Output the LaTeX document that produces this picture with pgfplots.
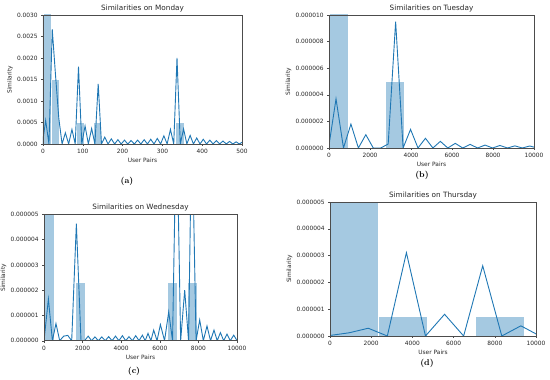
\documentclass[border=0pt]{standalone}
\usepackage{fontspec}
\usepackage{pgfplots}
\pgfplotsset{compat=1.18}
\newfontfamily\dv{DejaVu Sans}
\definecolor{cz}{HTML}{1F77B4}
\definecolor{hc}{HTML}{A5C9E1}
\pgfplotsset{
  panel/.style={
    scale only axis,
    anchor=south west,
    axis on top,
    axis line style={black!70, line width=0.5bp},
    tick align=outside,
    tick pos=left,
    major tick length=1.8bp,
    tick style={black!70, line width=0.4bp},
    tick label style={font=\dv\fontsize{5.9}{6.5}\selectfont, text=black!85},
    label style={font=\dv\fontsize{5.9}{6.5}\selectfont, text=black!85},
    xlabel style={yshift=2.5bp},
    ylabel style={yshift=-2.5bp},
    title style={font=\dv\fontsize{7.3}{8}\selectfont, text=black!85, inner sep=1.2bp, yshift=-4.5bp},
    /pgf/number format/assume math mode=true,
    /pgf/number format/1000 sep={},
    scaled ticks=false,
    xlabel={User Pairs}, ylabel={Similarity},
    xmin=0, ymin=0,
  },
  kde/.style={cz, line width=0.9bp, no markers},
  hist/.style={ybar interval, fill=hc, draw=white, line width=0.3bp},
}
\begin{document}
\begin{tikzpicture}
\useasboundingbox (0bp,0bp) rectangle (550bp,380bp);

% (a) Monday
\begin{axis}[panel, at={(43bp,236bp)}, width=199bp, height=129bp,
  title={Similarities on Monday},
  xmax=500, ymax=0.003,
  xtick={0,100,200,300,400,500},
  ytick={0,0.0005,0.001,0.0015,0.002,0.0025,0.003},
  yticklabels={0.0000,0.0005,0.0010,0.0015,0.0020,0.0025,0.0030}]
\addplot[hist] coordinates {(0,0.045) (20.8,0.0015) (41.6,0)};
\addplot[hist] coordinates {(83.2,0.0005) (104,0)};
\addplot[hist] coordinates {(124.8,0.0005) (145.6,0)};
\addplot[hist] coordinates {(332.8,0.0005) (353.6,0)};
\addplot[kde] coordinates {(-1.55,0) (6.7,0.00055) (14.95,0) (23.2,0.00267) (31.45,0.0016) (39.7,0.0006) (47.95,0) (56.2,0.00026) (64.45,0) (72.7,0.00034) (80.95,0) (89.2,0.0018) (97.45,0) (105.7,0.00042) (113.95,0) (122.2,0.00036) (130.45,0) (138.7,0.0014) (146.95,0) (155.2,0.00016) (163.45,0) (171.7,0.00012) (179.95,0) (188.2,0.0001) (196.45,0) (204.7,0.00009) (212.95,0) (221.2,0.00008) (229.45,0) (237.7,0.00009) (245.95,0) (254.2,0.0001) (262.45,0) (270.7,0.00011) (278.95,0) (287.2,0.00013) (295.45,0) (303.7,0.00019) (311.95,0) (320.2,0.00034) (328.45,0) (336.7,0.002) (344.95,0) (353.2,0.00035) (361.45,0) (369.7,0.0002) (377.95,0) (386.2,0.00014) (394.45,0) (402.7,0.00011) (410.95,0) (419.2,0.00009) (427.45,0) (435.7,0.00008) (443.95,0) (452.2,0.00007) (460.45,0) (468.7,0.00006) (476.95,0) (485.2,0.00005) (493.45,0) (501.7,0.00005)};
\end{axis}

% (b) Tuesday
\begin{axis}[panel, at={(329bp,232bp)}, width=205bp, height=133bp,
  title={Similarities on Tuesday},
  xmax=10000, ymax=1e-5,
  xtick={0,2000,4000,6000,8000,10000},
  ytick={0,2e-6,4e-6,6e-6,8e-6,1e-5},
  yticklabels={0.000000,0.000002,0.000004,0.000006,0.000008,0.000010}]
\addplot[hist] coordinates {(0,2e-5) (915,0)};
\addplot[hist] coordinates {(2745,5e-6) (3660,0)};
\addplot[kde] coordinates {(-21,0) (342.5,3.7e-6) (706,0) (1069.5,1.8e-6) (1433,0) (1796.5,1.0e-6) (2160,0) (2523.5,0) (2887,0.3e-6) (3250.5,9.5e-6) (3614,0) (3977.5,1.4e-6) (4341,0) (4704.5,0.73e-6) (5068,0) (5431.5,0.5e-6) (5795,0) (6158.5,0.35e-6) (6522,0) (6885.5,0.27e-6) (7249,0) (7612.5,0.22e-6) (7976,0) (8339.5,0.19e-6) (8703,0) (9066.5,0.16e-6) (9430,0) (9793.5,0.15e-6) (10157,0)};
\end{axis}

% (c) Wednesday
\begin{axis}[panel, at={(44bp,39.3bp)}, width=193bp, height=126.4bp,
  title={Similarities on Wednesday},
  xmax=10000, ymax=5e-6,
  xtick={0,2000,4000,6000,8000,10000},
  ytick={0,1e-6,2e-6,3e-6,4e-6,5e-6},
  yticklabels={0.000000,0.000001,0.000002,0.000003,0.000004,0.000005}]
\addplot[hist] coordinates {(0,1.5e-5) (530,0)};
\addplot[hist] coordinates {(1590,2.32e-6) (2120,0)};
\addplot[hist] coordinates {(6360,2.32e-6) (6890,0)};
\addplot[hist] coordinates {(7420,2.32e-6) (7950,0)};
\addplot[kde] coordinates {(0,0) (228,1.65e-6) (435,0) (620,0.68e-6) (813,0) (1020,0.18e-6) (1230,0.21e-6) (1435,0) (1677,4.63e-6) (1917,0) (2100,0) (2290,0.18e-6) (2465,0) (2640,0.15e-6) (2818,0) (2995,0.15e-6) (3172,0) (3350,0.16e-6) (3528,0) (3705,0.18e-6) (3884,0) (4062,0.2e-6) (4233,0) (4404,0.16e-6) (4578,0) (4751,0.2e-6) (4925,0) (5098,0.22e-6) (5244,0) (5389,0.29e-6) (5537,0) (5684,0.42e-6) (5858,0) (6031,0.64e-6) (6246,0) (6461,1.14e-6) (6660,0) (6866,9.2e-6) (7080,0) (7290,2.0e-6) (7490,0) (7659,8.9e-6) (7880,0) (8067,0.82e-6) (8256,0) (8446,0.58e-6) (8627,0) (8808,0.42e-6) (8974,0) (9140,0.32e-6) (9311,0) (9482,0.26e-6) (9655,0) (9829,0.22e-6) (10005,0)};
\end{axis}

% (d) Thursday
\begin{axis}[panel, at={(330bp,44bp)}, width=206bp, height=134bp,
  title={Similarities on Thursday},
  xmax=10000, ymax=5e-6,
  xtick={0,2000,4000,6000,8000,10000},
  ytick={0,1e-6,2e-6,3e-6,4e-6,5e-6},
  yticklabels={0.000000,0.000001,0.000002,0.000003,0.000004,0.000005}]
\addplot[hist] coordinates {(0,1.5e-5) (2353,0.746e-6) (4706,0)};
\addplot[hist] coordinates {(7059,0.746e-6) (9412,0)};
\addplot[kde] coordinates {(0,0.02e-6) (931,0.12e-6) (1857,0.29e-6) (2783,0) (3709,3.11e-6) (4635,0) (5561,0.81e-6) (6487,0) (7413,2.62e-6) (8339,0) (9265,0.38e-6) (10191,0)};
\end{axis}

\node[font=\fontsize{8.5}{10}\selectfont\bfseries] at (127bp,198.3bp) {(a)};
\node[font=\fontsize{8.5}{10}\selectfont\bfseries] at (422bp,205bp) {(b)};
\node[font=\fontsize{8.5}{10}\selectfont\bfseries] at (134bp,8.3bp) {(c)};
\node[font=\fontsize{8.5}{10}\selectfont\bfseries] at (427bp,16.7bp) {(d)};
\end{tikzpicture}
\end{document}
